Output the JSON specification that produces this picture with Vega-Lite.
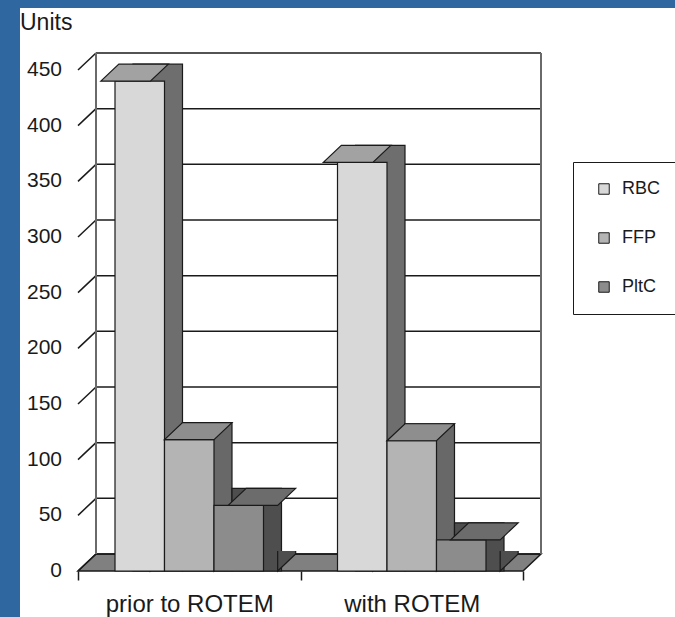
{
  "$schema": "https://vega.github.io/schema/vega-lite/v6.json",
  "width": 445,
  "height": 501,
  "autosize": "none",
  "padding": {"left": 78, "top": 70, "right": 152, "bottom": 46},
  "background": "white",
  "config": {
    "font": "Liberation Sans",
    "view": {"stroke": null}
  },
  "datasets": {
    "units": [
      {"group": "prior to ROTEM", "product": "RBC", "units": 440},
      {"group": "prior to ROTEM", "product": "FFP", "units": 118},
      {"group": "prior to ROTEM", "product": "PltC", "units": 59},
      {"group": "with ROTEM", "product": "RBC", "units": 367},
      {"group": "with ROTEM", "product": "FFP", "units": 117},
      {"group": "with ROTEM", "product": "PltC", "units": 28}
    ],
    "levels": [
      {"level": 0}, {"level": 50}, {"level": 100}, {"level": 150}, {"level": 200},
      {"level": 250}, {"level": 300}, {"level": 350}, {"level": 400}, {"level": 450}
    ],
    "edges": [{"edge": 0}, {"edge": 1}]
  },
  "layer": [
    {
      "data": {"name": "edges"},
      "transform": [{"filter": "datum.edge == 0"}],
      "mark": {"type": "rect", "fill": "#2f68a1"},
      "encoding": {
        "x": {"datum": -0.17528, "type": "quantitative", "scale": {"domain": [0, 1], "nice": false, "zero": false}, "axis": null},
        "x2": {"datum": -0.13034},
        "y": {"datum": -41.32, "type": "quantitative", "scale": {"domain": [0, 450], "nice": false}, "axis": null},
        "y2": {"datum": 512.87}
      }
    },
    {
      "data": {"name": "edges"},
      "transform": [{"filter": "datum.edge == 0"}],
      "mark": {"type": "rect", "fill": "#2f68a1"},
      "encoding": {
        "x": {"datum": -0.17528, "type": "quantitative", "scale": {"domain": [0, 1], "nice": false, "zero": false}, "axis": null},
        "x2": {"datum": 1.34157},
        "y": {"datum": 505.69, "type": "quantitative", "scale": {"domain": [0, 450], "nice": false}, "axis": null},
        "y2": {"datum": 512.87}
      }
    },
    {
      "data": {"name": "edges"},
      "transform": [{"filter": "datum.edge == 0"}],
      "mark": {"type": "point", "shape": "M0,0L445,0L463,-17L18,-17Z", "size": 4, "filled": true, "opacity": 1, "fill": "#808080", "stroke": "#1a1a1a", "strokeWidth": 1.5},
      "encoding": {
        "x": {"field": "edge", "type": "quantitative", "scale": {"domain": [0, 1], "nice": false, "zero": false}, "axis": null},
        "y": {"datum": 0, "type": "quantitative", "scale": {"domain": [0, 450], "nice": false}, "axis": null}
      }
    },
    {
      "data": {"name": "levels"},
      "mark": {"type": "rule", "xOffset": 18, "x2Offset": 18, "yOffset": -17, "color": "#1a1a1a", "strokeWidth": 1.5},
      "encoding": {
        "x": {"datum": 0, "type": "quantitative", "scale": {"domain": [0, 1], "nice": false, "zero": false}, "axis": null},
        "x2": {"datum": 1},
        "y": {"field": "level", "type": "quantitative", "scale": {"domain": [0, 450], "nice": false}, "axis": null}
      }
    },
    {
      "data": {"name": "levels"},
      "mark": {"type": "rule", "x2Offset": 18, "y2Offset": -17, "color": "#1a1a1a", "strokeWidth": 1.5},
      "encoding": {
        "x": {"datum": 0, "type": "quantitative", "scale": {"domain": [0, 1], "nice": false, "zero": false}, "axis": null},
        "x2": {"datum": 0},
        "y": {"field": "level", "type": "quantitative", "scale": {"domain": [0, 450], "nice": false}, "axis": null},
        "y2": {"field": "level"}
      }
    },
    {
      "data": {"name": "levels"},
      "mark": {"type": "text", "align": "right", "baseline": "middle", "dx": -16, "fontSize": 21, "color": "#1a1a1a", "font": "Liberation Sans"},
      "encoding": {
        "x": {"datum": 0, "type": "quantitative", "scale": {"domain": [0, 1], "nice": false, "zero": false}, "axis": null},
        "y": {"field": "level", "type": "quantitative", "scale": {"domain": [0, 450], "nice": false}, "axis": null},
        "text": {"field": "level", "type": "quantitative", "format": "d"}
      }
    },
    {
      "data": {"name": "edges"},
      "transform": [{"filter": "datum.edge == 0"}],
      "mark": {"type": "text", "text": "Units", "align": "left", "baseline": "alphabetic", "dx": -58, "dy": -40, "fontSize": 23, "color": "#1a1a1a", "font": "Liberation Sans"},
      "encoding": {
        "x": {"field": "edge", "type": "quantitative", "scale": {"domain": [0, 1], "nice": false, "zero": false}, "axis": null},
        "y": {"datum": 450, "type": "quantitative", "scale": {"domain": [0, 450], "nice": false}, "axis": null}
      }
    },
    {
      "data": {"name": "edges"},
      "mark": {"type": "rule", "xOffset": 18, "yOffset": -17, "y2Offset": -17, "color": "#6a6a6a", "strokeWidth": 2},
      "encoding": {
        "x": {"field": "edge", "type": "quantitative", "scale": {"domain": [0, 1], "nice": false, "zero": false}, "axis": null},
        "y": {"datum": 0, "type": "quantitative", "scale": {"domain": [0, 450], "nice": false}, "axis": null},
        "y2": {"datum": 450}
      }
    },
    {
      "data": {"name": "units"},
      "mark": {"type": "bar", "yOffset": -17, "stroke": "#1a1a1a", "strokeWidth": 1.2},
      "encoding": {
        "x": {"field": "group", "type": "nominal", "scale": {"paddingInner": 0, "paddingOuter": 0}, "axis": null},
        "xOffset": {"field": "product", "type": "nominal", "scale": {"domain": ["RBC", "FFP", "PltC"], "paddingInner": 0, "paddingOuter": 0.7475, "align": 0.7432}},
        "y": {"field": "units", "type": "quantitative", "scale": {"domain": [0, 450], "nice": false}, "axis": null},
        "y2": {"datum": 0},
        "fill": {"field": "product", "type": "nominal", "scale": {"domain": ["RBC", "FFP", "PltC"], "range": ["#6e6e6e", "#686868", "#4e4e4e"]}, "legend": null}
      }
    },
    {
      "data": {"name": "units"},
      "mark": {"type": "point", "shape": "M24.75,-20L24.75,0L42.75,-17L42.75,-20", "size": 4, "filled": true, "opacity": 1, "stroke": "#1a1a1a", "strokeWidth": 1.2},
      "encoding": {
        "x": {"field": "group", "type": "nominal", "scale": {"paddingInner": 0, "paddingOuter": 0}, "axis": null},
        "xOffset": {"field": "product", "type": "nominal", "scale": {"domain": ["RBC", "FFP", "PltC"], "paddingInner": 0, "paddingOuter": 0.7475}},
        "y": {"datum": 0, "type": "quantitative", "scale": {"domain": [0, 450], "nice": false}, "axis": null},
        "fill": {"field": "product", "type": "nominal", "scale": {"domain": ["RBC", "FFP", "PltC"], "range": ["#6e6e6e", "#686868", "#4e4e4e"]}, "legend": null}
      }
    },
    {
      "data": {"name": "units"},
      "mark": {"type": "bar", "stroke": "#1a1a1a", "strokeWidth": 1.2},
      "encoding": {
        "x": {
          "field": "group", "type": "nominal",
          "scale": {"paddingInner": 0, "paddingOuter": 0},
          "axis": {
            "title": null, "domain": false, "tickBand": "extent",
            "tickSize": 9, "tickColor": "#1a1a1a", "tickWidth": 1.5,
            "labelFontSize": 24, "labelColor": "#1a1a1a", "labelPadding": 12,
            "labelAngle": 0
          }
        },
        "xOffset": {"field": "product", "type": "nominal", "scale": {"domain": ["RBC", "FFP", "PltC"], "paddingInner": 0, "paddingOuter": 0.7475}},
        "y": {
          "field": "units", "type": "quantitative",
          "scale": {"domain": [0, 450], "nice": false},
          "axis": {
            "title": null,
            "values": [0, 50, 100, 150, 200, 250, 300, 350, 400, 450],
            "grid": false, "labels": false,
            "domain": true, "domainColor": "#1a1a1a", "domainWidth": 1.5,
            "tickSize": 7, "tickColor": "#1a1a1a", "tickWidth": 1.5
          }
        },
        "y2": {"datum": 0},
        "fill": {
          "field": "product", "type": "nominal",
          "scale": {"domain": ["RBC", "FFP", "PltC"], "range": ["#d8d8d8", "#b4b4b4", "#8c8c8c"]},
          "legend": {
            "title": null, "orient": "none", "legendX": 495, "legendY": 92,
            "direction": "vertical", "fillColor": "white", "strokeColor": "#1a1a1a",
            "padding": 18, "symbolType": "square", "symbolSize": 110,
            "symbolStrokeColor": "#1a1a1a", "symbolStrokeWidth": 1, "symbolOffset": 4,
            "labelFontSize": 18, "labelColor": "#1a1a1a", "labelOffset": 9, "rowPadding": 31
          }
        }
      }
    },
    {
      "data": {"name": "units"},
      "mark": {"type": "point", "shape": "M-24.75,0L24.75,0L42.75,-17L-6.75,-17Z", "size": 4, "filled": true, "opacity": 1, "stroke": "#1a1a1a", "strokeWidth": 1.2},
      "encoding": {
        "x": {"field": "group", "type": "nominal", "scale": {"paddingInner": 0, "paddingOuter": 0}, "axis": null},
        "xOffset": {"field": "product", "type": "nominal", "scale": {"domain": ["RBC", "FFP", "PltC"], "paddingInner": 0, "paddingOuter": 0.7475}},
        "y": {"field": "units", "type": "quantitative", "scale": {"domain": [0, 450], "nice": false}, "axis": null},
        "fill": {"field": "product", "type": "nominal", "scale": {"domain": ["RBC", "FFP", "PltC"], "range": ["#a2a2a2", "#8e8e8e", "#6c6c6c"]}, "legend": null}
      }
    }
  ],
  "resolve": {"scale": {"x": "independent", "xOffset": "independent", "fill": "independent"}}
}
